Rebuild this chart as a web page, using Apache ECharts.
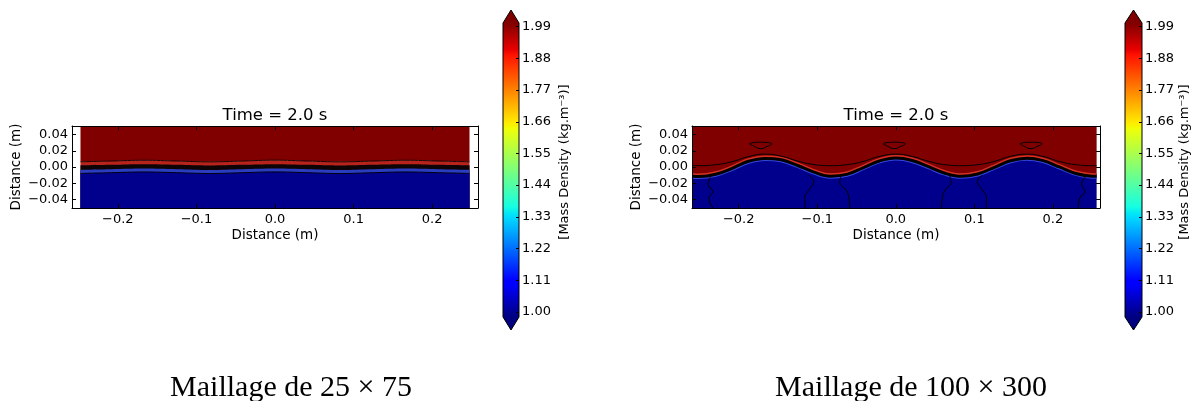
<!DOCTYPE html>
<html>
<head>
<meta charset="utf-8">
<script src="https://cdn.jsdelivr.net/npm/echarts@6/dist/echarts.min.js"></script>
<style>
html,body{margin:0;padding:0;background:#fff;}
#chart{width:1193px;height:401px;}
</style>
</head>
<body>
<div id="chart"></div>
<script>
// ---------- data ----------
const xTicks = [-0.2, -0.1, 0.0, 0.1, 0.2];
const yTicks = [-0.04, -0.02, 0.0, 0.02, 0.04];
const cbarTicks = [1.00, 1.11, 1.22, 1.33, 1.44, 1.55, 1.66, 1.77, 1.88, 1.99];
const cbarRange = [0.982, 2.003];
const titleText = 'Time = 2.0 s';
const captions = ['Maillage de 25 \u00d7 75', 'Maillage de 100 \u00d7 300'];

// Left panel (25 x 75 mesh): diffuse interface, layer boundaries
const leftX      = [-0.2475, -0.2083, -0.1667, -0.125, -0.0833, -0.0417, 0.0, 0.0417, 0.0833, 0.125, 0.1667, 0.2083, 0.2475];
const leftTop    = [0.0066, 0.0075, 0.0085, 0.0075, 0.0065, 0.0075, 0.0086, 0.0075, 0.0065, 0.0075, 0.0085, 0.0075, 0.0066];
const leftRed    = [0.0022, 0.0029, 0.0036, 0.0029, 0.0021, 0.0029, 0.0037, 0.0029, 0.0021, 0.0029, 0.0036, 0.0029, 0.0022];
const leftBlack  = [-0.0034, -0.0026, -0.0018, -0.0026, -0.0035, -0.0026, -0.0017, -0.0026, -0.0035, -0.0026, -0.0018, -0.0026, -0.0034];
const leftBottom = [-0.0078, -0.0069, -0.0060, -0.0069, -0.0079, -0.0069, -0.0059, -0.0069, -0.0079, -0.0069, -0.0060, -0.0069, -0.0078];

// Right panel (100 x 300 mesh): sharp interface and contours
const rightX = [-0.2595, -0.25, -0.2292, -0.2083, -0.1875, -0.1667, -0.1458, -0.125, -0.1042, -0.0833, -0.0625, -0.0417, -0.0208, 0.0, 0.0208, 0.0417, 0.0625, 0.0833, 0.1042, 0.125, 0.1458, 0.1667, 0.1875, 0.2083, 0.2292, 0.25, 0.2557];
const rightInterface = [-0.0113, -0.0116, -0.0088, -0.0015, 0.0072, 0.0108, 0.0090, 0.0020, -0.0062, -0.0112, -0.0090, -0.0008, 0.0076, 0.0112, 0.0082, 0.0005, -0.0075, -0.0114, -0.0085, -0.0005, 0.0078, 0.0110, 0.0080, 0.0002, -0.0078, -0.0112, -0.0113];
const rightUpper = [0.0020, 0.0018, 0.0030, 0.0068, 0.0130, 0.0160, 0.0135, 0.0075, 0.0032, 0.0018, 0.0030, 0.0070, 0.0132, 0.0160, 0.0132, 0.0072, 0.0030, 0.0018, 0.0030, 0.0070, 0.0132, 0.0160, 0.0132, 0.0070, 0.0030, 0.0018, 0.0018];
const bowl1 = [[-0.186, 0.0288], [-0.180, 0.0305], [-0.172, 0.0308], [-0.164, 0.0305], [-0.158, 0.0288], [-0.164, 0.0255], [-0.172, 0.0228], [-0.180, 0.0255], [-0.186, 0.0288]];
const bowl2 = [[-0.016, 0.0288], [-0.010, 0.0305], [-0.002, 0.0308], [0.006, 0.0305], [0.012, 0.0288], [0.006, 0.0255], [-0.002, 0.0228], [-0.010, 0.0255], [-0.016, 0.0288]];
const bowl3 = [[0.158, 0.0288], [0.164, 0.0305], [0.172, 0.0308], [0.180, 0.0305], [0.186, 0.0288], [0.180, 0.0255], [0.172, 0.0228], [0.164, 0.0255], [0.158, 0.0288]];
const vc1 = [[-0.2348, -0.0105], [-0.2391, -0.0218], [-0.2327, -0.0300], [-0.2378, -0.0381], [-0.2327, -0.0505]];
const vc2 = [[-0.1108, -0.0100], [-0.1045, -0.0177], [-0.1104, -0.0280], [-0.1159, -0.0380], [-0.1155, -0.0505]];
const vc3 = [[-0.0692, -0.0098], [-0.0713, -0.0183], [-0.0628, -0.0290], [-0.0595, -0.0390], [-0.0586, -0.0505]];
const vc4 = [[0.0680, -0.0098], [0.0705, -0.0183], [0.0625, -0.0290], [0.0590, -0.0390], [0.0580, -0.0505]];
const vc5 = [[0.1100, -0.0100], [0.1040, -0.0177], [0.1100, -0.0280], [0.1155, -0.0380], [0.1150, -0.0505]];
const vc6 = [[0.2429, -0.0105], [0.2366, -0.0218], [0.2408, -0.0300], [0.2344, -0.0381], [0.2322, -0.0505]];

// ---------- styling ----------
const FONT = 'DejaVu Sans';
const jetStops = [
  {offset: 0.00, color: '#000080'}, {offset: 0.11, color: '#0000ff'}, {offset: 0.125, color: '#0000ff'},
  {offset: 0.34, color: '#00dbff'}, {offset: 0.35, color: '#00e5f7'}, {offset: 0.375, color: '#15ffe2'},
  {offset: 0.64, color: '#efff08'}, {offset: 0.65, color: '#f7f500'}, {offset: 0.66, color: '#ffec00'},
  {offset: 0.89, color: '#ff1300'}, {offset: 0.91, color: '#e80000'}, {offset: 1.00, color: '#800000'}
];
const DARK_RED = '#800000', DARK_BLUE = '#00008c';
const xRanges = [[-0.2583, 0.2583], [-0.2595, 0.2600]];
const yRange = [-0.0505, 0.0508];

const zip = (xs, ys) => xs.map((x, i) => [x, ys[i]]);
const fmt = (d) => (v) => { if (Math.abs(v) < 1e-9) return (0).toFixed(d); return (v < 0 ? '\u2212' : '') + Math.abs(v).toFixed(d); };

const grids = [
  {left: 72, top: 126, width: 406, height: 82},
  {left: 692, top: 126, width: 408, height: 82},
  {left: 503, top: 23, width: 16, height: 294},
  {left: 1125, top: 23, width: 17, height: 294}
];
const tickStyle = {inside: true, length: 4, lineStyle: {color: '#000'}};
const lineAxis = {show: true, onZero: false, lineStyle: {color: '#000', width: 1}};
const lbl = {color: '#000', fontFamily: FONT, fontSize: 13};

const xAxes = [], yAxes = [];
[0, 1].forEach(g => {
  xAxes.push({type: 'value', gridIndex: g, position: 'bottom', z: 10, min: xRanges[g][0], max: xRanges[g][1],
    axisLine: lineAxis, splitLine: {show: false},
    axisTick: Object.assign({customValues: xTicks}, tickStyle),
    axisLabel: Object.assign({customValues: xTicks, margin: 5, formatter: fmt(1)}, lbl),
    name: 'Distance (m)', nameLocation: 'middle', nameGap: 20,
    nameTextStyle: {color: '#000', fontFamily: FONT, fontSize: 13.5}});
  xAxes.push({type: 'value', gridIndex: g, position: 'top', z: 10, min: xRanges[g][0], max: xRanges[g][1],
    axisLine: lineAxis, splitLine: {show: false},
    axisTick: Object.assign({customValues: xTicks}, tickStyle), axisLabel: {show: false}});
  yAxes.push({type: 'value', gridIndex: g, position: 'left', z: 10, min: yRange[0], max: yRange[1],
    axisLine: lineAxis, splitLine: {show: false},
    axisTick: Object.assign({customValues: yTicks}, tickStyle),
    axisLabel: Object.assign({customValues: yTicks, margin: 4, formatter: fmt(2)}, lbl),
    name: 'Distance (m)', nameLocation: 'middle', nameGap: 49, nameRotate: 90,
    nameTextStyle: {color: '#000', fontFamily: FONT, fontSize: 13.5}});
  yAxes.push({type: 'value', gridIndex: g, position: 'right', z: 10, min: yRange[0], max: yRange[1],
    axisLine: lineAxis, splitLine: {show: false},
    axisTick: Object.assign({customValues: yTicks}, tickStyle), axisLabel: {show: false}});
});
[2, 3].forEach(g => {
  xAxes.push({type: 'value', gridIndex: g, min: 0, max: 1, show: false});
  yAxes.push({type: 'value', gridIndex: g, position: 'right', z: 10, min: cbarRange[0], max: cbarRange[1],
    axisLine: {show: false, onZero: false}, splitLine: {show: false},
    axisTick: {customValues: cbarTicks, inside: true, length: 3, lineStyle: {color: '#000'}},
    axisLabel: Object.assign({customValues: cbarTicks, margin: 3, formatter: v => v.toFixed(2)}, lbl)});
});

const series = [];
function area(xi, yi, data, origin, color, line) {
  series.push({type: 'line', xAxisIndex: xi, yAxisIndex: yi, data: data, smooth: 0.4, symbol: 'none',
    areaStyle: color ? {color: color, opacity: 1, origin: origin} : undefined,
    lineStyle: line || {width: 0}, silent: true, animation: false});
}
function contour(xi, yi, data) {
  series.push({type: 'line', xAxisIndex: xi, yAxisIndex: yi, data: data, smooth: 0.5, symbol: 'none',
    lineStyle: {color: '#000', width: 1}, silent: true, animation: false});
}
// Left panel layers (x axis 0, y axis 0)
area(0, 0, zip(leftX, leftTop), 'end', DARK_RED);
area(0, 0, zip(leftX, leftTop), 'start', '#b8241c', {color: '#1a0000', width: 1});
area(0, 0, zip(leftX, leftRed), 'start', '#0e0406');
area(0, 0, zip(leftX, leftBlack), 'start', '#2a3cc0');
area(0, 0, zip(leftX, leftBottom), 'start', DARK_BLUE, {color: '#000010', width: 1});
// Right panel (x axis 2, y axis 2)
area(2, 2, zip(rightX, rightInterface), 'end', DARK_RED);
area(2, 2, zip(rightX, rightInterface), 'start', DARK_BLUE, {color: '#3446e0', width: 5});
series.push({type: 'line', xAxisIndex: 2, yAxisIndex: 2, data: zip(rightX, rightInterface), smooth: 0.4, symbol: 'none',
  lineStyle: {color: '#000', width: 3, shadowColor: '#d8301e', shadowOffsetY: -1.5, shadowBlur: 0}, silent: true, animation: false});
contour(2, 2, zip(rightX, rightUpper));
[bowl1, bowl2, bowl3, vc1, vc2, vc3, vc4, vc5, vc6].forEach(c => contour(2, 2, c));

// Colorbars
function colorbarItem(params, api) {
  const lo = api.coord([0, api.value(1)]);
  const hi = api.coord([1, api.value(2)]);
  const x0 = lo[0], x1 = hi[0], yb = lo[1], yt = hi[1], xm = (x0 + x1) / 2, tri = 13;
  return {type: 'group', children: [
    {type: 'rect', shape: {x: x0, y: yt, width: x1 - x0, height: yb - yt},
      style: {fill: {type: 'linear', x: 0, y: 1, x2: 0, y2: 0, colorStops: jetStops}}},
    {type: 'polygon', shape: {points: [[x0, yt], [x1, yt], [xm, yt - tri]]}, style: {fill: '#800000'}},
    {type: 'polygon', shape: {points: [[x0, yb], [x1, yb], [xm, yb + tri]]}, style: {fill: '#000080'}},
    {type: 'polygon', shape: {points: [[x0, yb], [x0, yt], [xm, yt - tri], [x1, yt], [x1, yb], [xm, yb + tri]]},
      style: {fill: 'none', stroke: '#000', lineWidth: 1}}
  ]};
}
[4, 5].forEach(i => series.push({type: 'custom', xAxisIndex: i, yAxisIndex: i, renderItem: colorbarItem,
  data: [[0, cbarRange[0], cbarRange[1]]], encode: {x: 0, y: [1, 2]}, silent: true, animation: false}));

const option = {
  animation: false,
  backgroundColor: '#fff',
  grid: grids,
  xAxis: xAxes,
  yAxis: yAxes,
  series: series,
  title: [
    {text: titleText, left: 275, top: 107, textAlign: 'center', padding: 0,
      textStyle: {color: '#000', fontFamily: FONT, fontSize: 16.5, fontWeight: 'normal'}},
    {text: titleText, left: 896, top: 107, textAlign: 'center', padding: 0,
      textStyle: {color: '#000', fontFamily: FONT, fontSize: 16.5, fontWeight: 'normal'}},
    {text: captions[0], left: 291, top: 373, textAlign: 'center', padding: 0,
      textStyle: {color: '#000', fontFamily: 'Liberation Serif', fontSize: 30, fontWeight: 'normal'}},
    {text: captions[1], left: 911, top: 373, textAlign: 'center', padding: 0,
      textStyle: {color: '#000', fontFamily: 'Liberation Serif', fontSize: 30, fontWeight: 'normal'}}
  ],
  graphic: [
    {type: 'text', x: 565, y: 162, rotation: Math.PI / 2,
      style: {text: '[Mass Density (kg.m\u207b\u00b3)]', fill: '#000', font: '13px "DejaVu Sans"', align: 'center', verticalAlign: 'middle'}},
    {type: 'text', x: 1185, y: 162, rotation: Math.PI / 2,
      style: {text: '[Mass Density (kg.m\u207b\u00b3)]', fill: '#000', font: '13px "DejaVu Sans"', align: 'center', verticalAlign: 'middle'}}
  ]
};
const chart = echarts.init(document.getElementById('chart'), null, {renderer: 'canvas'});
chart.setOption(option);
</script>
</body>
</html>
